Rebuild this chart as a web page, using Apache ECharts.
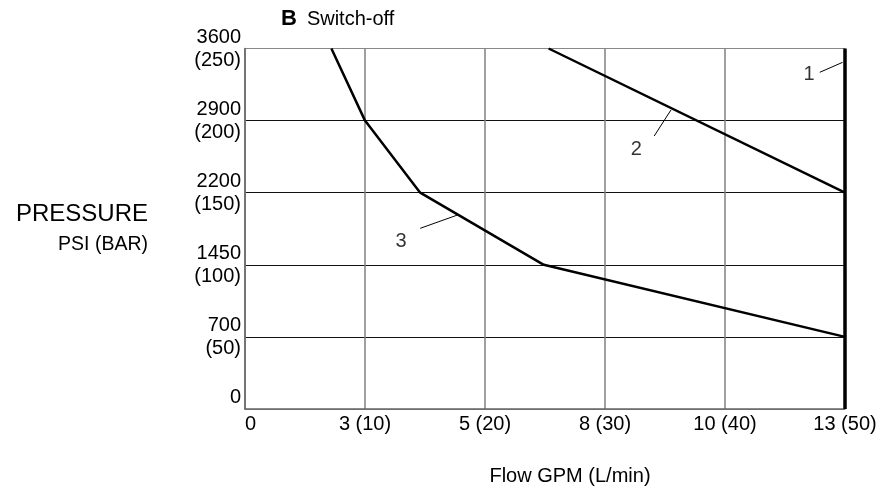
<!DOCTYPE html>
<html>
<head>
<meta charset="utf-8">
<script src="https://cdn.jsdelivr.net/npm/echarts@6/dist/echarts.min.js"></script>
<style>
html, body { margin: 0; padding: 0; background: #fff; }
#chart { width: 888px; height: 488px; }
</style>
</head>
<body>
<div id="chart"></div>
<script>
// tick labels
var flowLabels = ['0', '3 (10)', '5 (20)', '8 (30)', '10 (40)', '13 (50)'];
var psiLabels = ['0', '700', '1450', '2200', '2900', '3600'];
var barLabels = ['', '(50)', '(100)', '(150)', '(200)', '(250)'];

// curves: [L/min, bar]
var curve1 = [[50, 0], [50, 250]];
var curve2 = [[25.3, 250], [50, 150]];
var curve3 = [[7.2, 250], [10, 200], [14.6, 150], [24.9, 100], [50, 50]];

// callouts
var calloutNames = ['1', '2', '3'];
var calloutLabels = [[47.0, 232], [32.6, 180], [13.0, 116]];
var leader1 = [[47.9, 233.5], [49.8, 240.4]];
var leader2 = [[34.1, 189.3], [35.5, 207.4]];
var leader3 = [[14.6, 125.3], [17.7, 134.5]];

var dom = document.getElementById('chart');
var myChart = echarts.init(dom);
var font = 'Liberation Sans, Arial, Helvetica, sans-serif';

function leader(data) {
    return {
        type: 'line', data: data, symbol: 'none', silent: true,
        lineStyle: {color: '#000', width: 1}
    };
}

var option = {
    animation: false,
    backgroundColor: '#fff',
    textStyle: {fontFamily: font},
    title: {
        left: 276, top: 3,
        text: '{b|B}  {n|Switch-off}',
        textStyle: {
            fontWeight: 'normal',
            rich: {
                b: {fontFamily: font, fontSize: 22, fontWeight: 'bold', color: '#000'},
                n: {fontFamily: font, fontSize: 20, fontWeight: 'normal', color: '#000'}
            }
        }
    },
    grid: {left: 245, right: 43, top: 48.5, bottom: 79},
    xAxis: {
        type: 'value', min: 0, max: 50, interval: 10,
        axisLine: {lineStyle: {color: '#666', width: 1.5}},
        axisTick: {show: false},
        splitLine: {lineStyle: {color: '#808080', width: 1.5}},
        axisLabel: {
            color: '#000', fontSize: 20, fontFamily: font, margin: 5,
            alignMinLabel: 'left',
            formatter: function (v) { return flowLabels[Math.round(v / 10)]; }
        }
    },
    yAxis: {
        type: 'value', min: 0, max: 250, interval: 50,
        axisLine: {show: true, lineStyle: {color: '#666', width: 1.5}},
        axisTick: {show: false},
        splitLine: {lineStyle: {color: ['#888', '#111', '#111', '#111', '#111', '#888'], width: 1}},
        axisLabel: {
            color: '#000', fontSize: 20, fontFamily: font, margin: 4, lineHeight: 23,
            padding: [6, 0, 0, 0],
            formatter: function (v) {
                var i = Math.round(v / 50);
                return psiLabels[i] + '\n' + (barLabels[i] || ' ');
            }
        }
    },
    graphic: [
        {type: 'text', x: 148, y: 214, style: {text: 'PRESSURE', font: '24px ' + font, fill: '#000', align: 'right', verticalAlign: 'middle'}},
        {type: 'text', x: 148, y: 245, style: {text: 'PSI (BAR)', font: '19.5px ' + font, fill: '#000', align: 'right', verticalAlign: 'middle'}},
        {type: 'text', x: 570, y: 476, style: {text: 'Flow GPM (L/min)', font: '20px ' + font, fill: '#000', align: 'center', verticalAlign: 'middle'}}
    ],
    series: [
        {type: 'line', data: curve3, symbol: 'none', lineStyle: {color: '#000', width: 2.5}},
        {type: 'line', data: curve2, symbol: 'none', lineStyle: {color: '#000', width: 2.5}},
        {type: 'line', data: curve1, symbol: 'none', lineStyle: {color: '#000', width: 3.5}},
        leader(leader1), leader(leader2), leader(leader3),
        {
            type: 'scatter', symbolSize: 0, silent: true,
            data: calloutLabels.map(function (p, i) { return {value: p, name: calloutNames[i]}; }),
            label: {
                show: true, position: 'inside', formatter: '{b}',
                color: '#000', fontSize: 20, fontFamily: font
            }
        }
    ]
};
if (option && typeof option === "object") {
    myChart.setOption(option, true);
}
</script>
</body>
</html>
